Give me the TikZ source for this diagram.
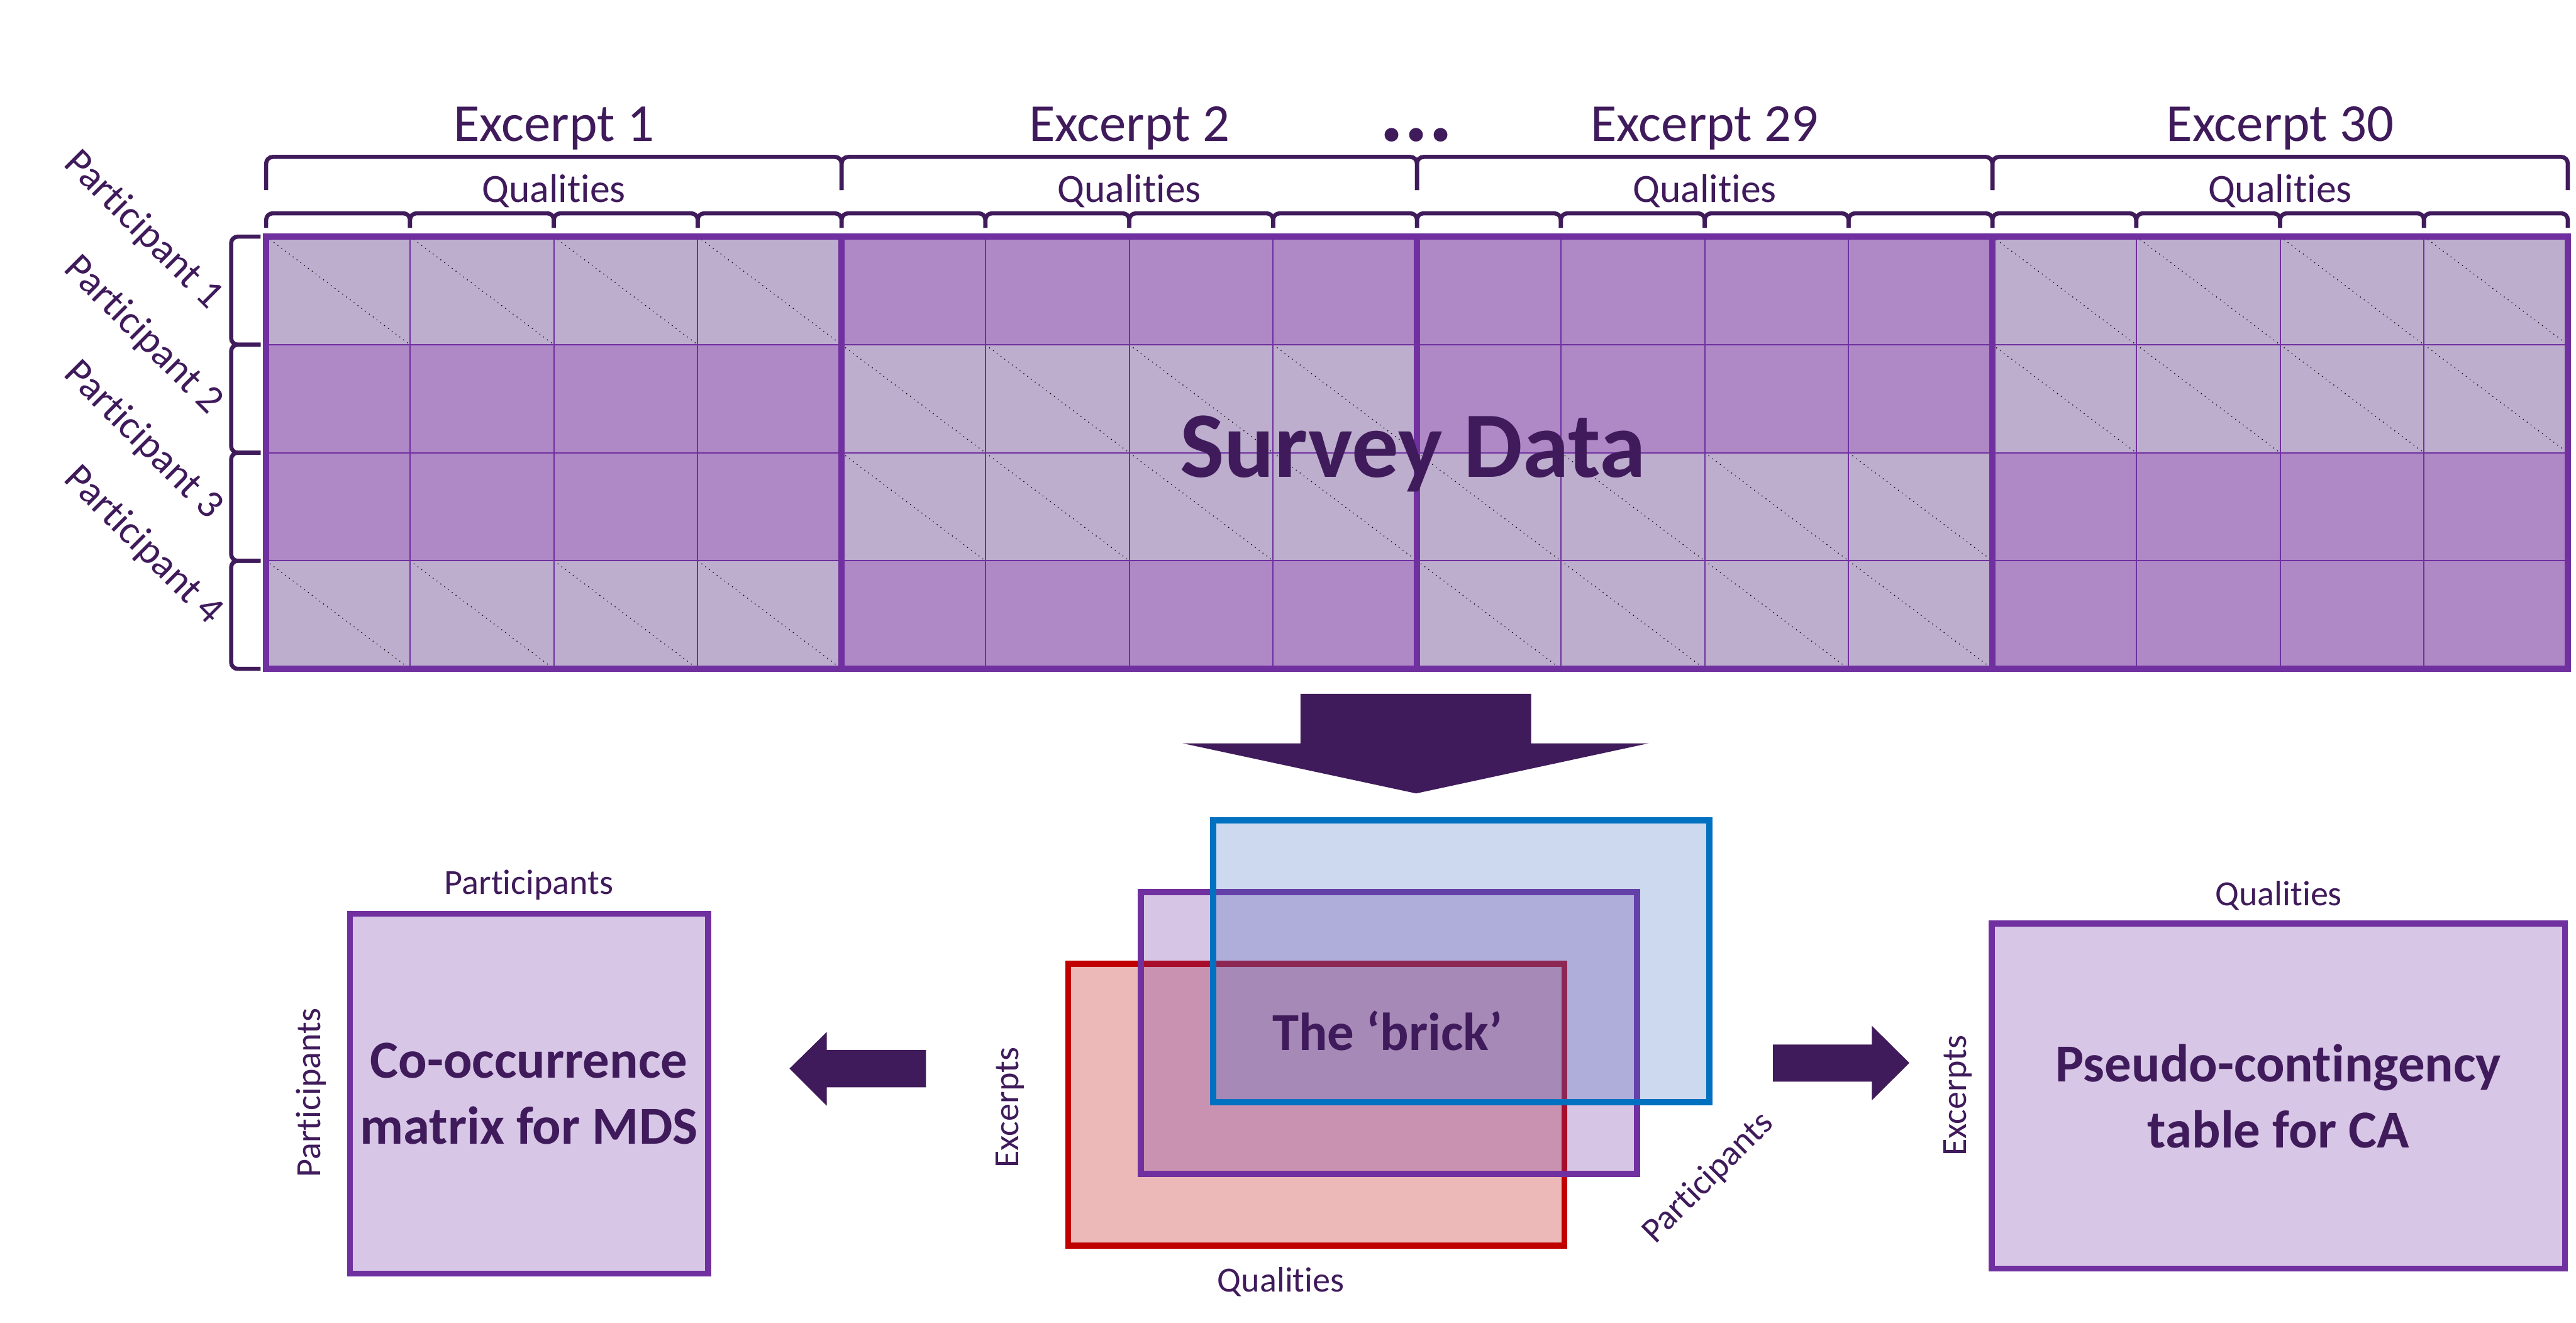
\documentclass[tikz,border=0pt]{standalone}
\usepackage{fontspec}
\setmainfont{Carlito}[Ligatures={NoCommon,NoDiscretionary,NoContextual}]
\usepackage{xcolor}
\usepackage{tikz}
\usetikzlibrary{positioning}
\definecolor{ink}{HTML}{401B5B}
\definecolor{frame}{HTML}{7030A0}
\definecolor{lightcell}{HTML}{BEAECE}
\definecolor{darkcell}{HTML}{AF88C6}
\definecolor{boxfill}{HTML}{D7C6E6}
\definecolor{bred}{HTML}{C00000}
\definecolor{bblue}{HTML}{0070C0}
\definecolor{bbluefill}{HTML}{4472C4}

\begin{document}
\begin{tikzpicture}[x=1pt, y=-1pt, every node/.style={inner sep=0pt, text=ink}, big/.style={font=\fontsize{32.5}{39}\selectfont}, qual/.style={font=\fontsize{24.4}{29}\selectfont}, lab/.style={font=\fontsize{21.5}{26}\selectfont}, bold/.style={font=\bfseries\fontsize{32.5}{40}\selectfont, align=center}, brace/.style={draw=ink, line width=2.5pt, rounded corners=4pt}, gridline/.style={draw=frame, line width=0.75pt}, blockline/.style={draw=frame, line width=3.6pt}, diag/.style={draw=black, line width=0.5pt, dash pattern=on 0.5pt off 2.4pt}, outbox/.style={draw=frame, fill=boxfill, line width=3.6pt, align=center, font=\bfseries\fontsize{32.5}{40}\selectfont}, brickbox/.style={draw=#1, fill=#1, fill opacity=0.28, line width=3.6pt, minimum width=302pt, minimum height=171.5pt}, blockarrow/.style={fill=ink}]
\useasboundingbox (0,0) rectangle (1568,805);
\node[big, anchor=base] (e1) at (337.1,86) {Excerpt 1};
\node[big, anchor=base] (e2) at (687.4,86) {Excerpt 2};
\node[anchor=base, font=\bfseries\fontsize{56}{56}\selectfont] (dots) at (862,86) {...};
\node[big, anchor=base] (e29) at (1037.6,86) {Excerpt 29};
\node[big, anchor=base] (e30) at (1387.9,86) {Excerpt 30};
\foreach \b in {0,...,3} {
  \draw[brace] ({162+\b*350.25},115.7) -- ({162+\b*350.25},95.5) -- ({512.25+\b*350.25},95.5) -- ({512.25+\b*350.25},115.7);
  \node[qual, anchor=base] (q\b) at ({337.1+\b*350.25},123) {Qualities};
}
\foreach \i in {0,...,15} \draw[brace] ({162+\i*87.5625},138.6) -- ++(0,-8.8) -- ++(87.5625,0) -- ++(0,8.8);
\fill[lightcell] (162,144) rectangle (1563,407);
\foreach \i in {0,...,15} \foreach \j in {0,...,3} \draw[diag] ({162+\i*87.5625},{144+\j*65.75}) -- ++(87.5625,65.75);
\foreach \b/\r in {1/0,2/0,0/1,2/1,0/2,3/2,1/3,3/3} \fill[darkcell] ({162+\b*350.25},{144+\r*65.75}) rectangle ++(350.25,65.75);
\foreach \i in {1,...,15} \draw[gridline] ({162+\i*87.5625},144) -- ++(0,263);
\foreach \j in {1,2,3} \draw[gridline] (162,{144+\j*65.75}) -- ++(1401,0);
\foreach \b in {0,...,3} \draw[blockline] ({162+\b*350.25},144) rectangle ++(350.25,263);
\foreach \j in {1,...,4} {
  \draw[brace] (158.6,{144+(\j-1)*65.75}) -- (140.7,{144+(\j-1)*65.75}) -- (140.7,{209.75+(\j-1)*65.75}) -- (158.6,{209.75+(\j-1)*65.75});
  \node[qual, rotate=-45] (p\j) at (87,{140+(\j-1)*64}) {Participant \j};
}
\node[anchor=base, font=\bfseries\fontsize{57}{60}\selectfont] (survey) at (860,290.5) {Survey Data};
\fill[blockarrow] (791.6,422.2) -- (932,422.2) -- (932,452.3) -- (1003.6,452.3) -- (862,482.8) -- (719.8,452.3) -- (791.6,452.3) -- cycle;
\node[brickbox=bred] (bq) at (801.25,672.25) {};
\node[brickbox=frame] (bp) at (845.4,628.5) {};
\node[brickbox=bblue, fill=bbluefill, fill opacity=0.27] (be) at (889.4,585) {};
\node[bold, anchor=base] (brick) at (844.6,639) {The ‘brick’};
\node[lab, rotate=90, anchor=base] (bexc) at (620,674) {Excerpts};
\node[lab, anchor=base] (bqual) at (779.7,786) {Qualities};
\node[lab, rotate=45] (bpart) at (1040,717) {Participants};
\fill[blockarrow] (563.6,639) -- (503.2,639) -- (503.2,628) -- (480.6,650.2) -- (503.2,672.8) -- (503.2,661.6) -- (563.6,661.6) -- cycle;
\fill[blockarrow] (1079.2,635.6) -- (1139.4,635.6) -- (1139.4,624.2) -- (1162.2,646.8) -- (1139.4,669.5) -- (1139.4,658.2) -- (1079.2,658.2) -- cycle;
\node[outbox, minimum width=218pt, minimum height=219pt] (mds) at (322,665.5) {Co-occurrence\\matrix for MDS};
\node[lab, anchor=base] (mdstop) at (322,544) {Participants};
\node[lab, rotate=90, anchor=base] (mdsleft) at (195,665) {Participants};
\node[outbox, minimum width=349pt, minimum height=210pt] (ca) at (1386.8,667) {Pseudo-contingency\\table for CA};
\node[lab, anchor=base] (catop) at (1387,551) {Qualities};
\node[lab, rotate=90, anchor=base] (caleft) at (1197,666.7) {Excerpts};
\end{tikzpicture}
\end{document}
